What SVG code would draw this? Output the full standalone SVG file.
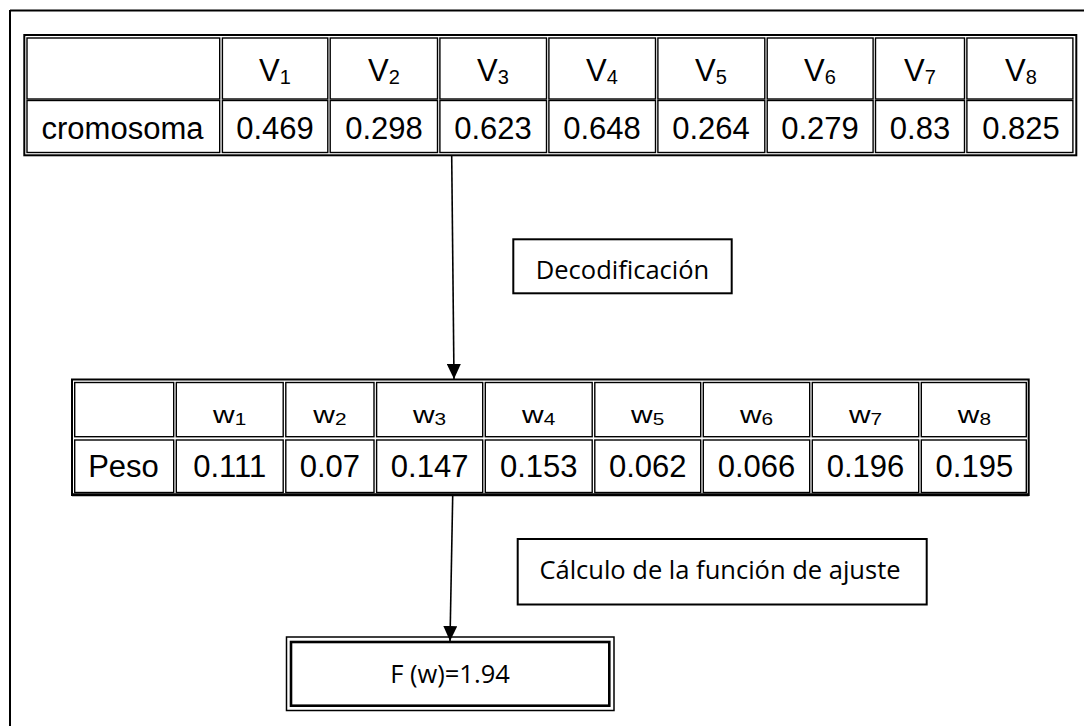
<svg xmlns="http://www.w3.org/2000/svg" width="1084" height="726" viewBox="0 0 1084 726">
<defs>
<style>
.frame{fill:none;stroke:#000;stroke-width:2}
.tout{fill:none;stroke:#000;stroke-width:2}
.cell{fill:none;stroke:#000;stroke-width:1.4}
.box{fill:#fff;stroke:#000;stroke-width:2}
.t{font-family:"Liberation Sans",Arial,sans-serif;fill:#000;text-anchor:middle}
.big{font-size:31px}
.hv{font-size:31px}
.hw{font-size:23px}
.lbl{font-family:"Open Sans","Noto Sans",sans-serif;font-size:25.5px;fill:#000;text-anchor:middle}
.conn{stroke:#000;stroke-width:1.6;fill:none}
</style>
<marker id="ah" markerUnits="userSpaceOnUse" markerWidth="16" markerHeight="14" refX="15" refY="7" orient="auto">
<path d="M0,0 L15,7 L0,14 z" fill="#000"/>
</marker>
</defs>
<rect width="1084" height="726" fill="#fff"/>
<g id="frame">
<line class="frame" x1="10" y1="10.5" x2="1084" y2="10.5"/>
<line class="frame" x1="10" y1="10" x2="10" y2="726"/>
</g>
<g id="tabla-cromosoma">
<rect class="tout" x="24.3" y="35" width="1052" height="120.3"/>
<rect class="cell" x="27" y="38" width="192.7" height="61"/>
<rect class="cell" x="27" y="100.5" width="192.7" height="52"/>
<rect class="cell" x="222.4" y="38" width="105.4" height="61"/>
<rect class="cell" x="222.4" y="100.5" width="105.4" height="52"/>
<rect class="cell" x="330.2" y="38" width="107.3" height="61"/>
<rect class="cell" x="330.2" y="100.5" width="107.3" height="52"/>
<rect class="cell" x="439.9" y="38" width="106.6" height="61"/>
<rect class="cell" x="439.9" y="100.5" width="106.6" height="52"/>
<rect class="cell" x="548.9" y="38" width="106.6" height="61"/>
<rect class="cell" x="548.9" y="100.5" width="106.6" height="52"/>
<rect class="cell" x="657.9" y="38" width="106.9" height="61"/>
<rect class="cell" x="657.9" y="100.5" width="106.9" height="52"/>
<rect class="cell" x="767.2" y="38" width="105.9" height="61"/>
<rect class="cell" x="767.2" y="100.5" width="105.9" height="52"/>
<rect class="cell" x="875.5" y="38" width="89" height="61"/>
<rect class="cell" x="875.5" y="100.5" width="89" height="52"/>
<rect class="cell" x="966.9" y="38" width="106" height="61"/>
<rect class="cell" x="966.9" y="100.5" width="106" height="52"/>
<text class="t hv" x="275" y="81">V<tspan font-size="20" dy="2.5">1</tspan></text>
<text class="t hv" x="384" y="81">V<tspan font-size="20" dy="2.5">2</tspan></text>
<text class="t hv" x="493" y="81">V<tspan font-size="20" dy="2.5">3</tspan></text>
<text class="t hv" x="602" y="81">V<tspan font-size="20" dy="2.5">4</tspan></text>
<text class="t hv" x="711" y="81">V<tspan font-size="20" dy="2.5">5</tspan></text>
<text class="t hv" x="820" y="81">V<tspan font-size="20" dy="2.5">6</tspan></text>
<text class="t hv" x="920" y="81">V<tspan font-size="20" dy="2.5">7</tspan></text>
<text class="t hv" x="1021" y="81">V<tspan font-size="20" dy="2.5">8</tspan></text>
<text class="t big" x="122.5" y="139.3">cromosoma</text>
<text class="t big" x="275" y="139.3">0.469</text>
<text class="t big" x="384" y="139.3">0.298</text>
<text class="t big" x="493" y="139.3">0.623</text>
<text class="t big" x="602" y="139.3">0.648</text>
<text class="t big" x="711" y="139.3">0.264</text>
<text class="t big" x="820" y="139.3">0.279</text>
<text class="t big" x="920" y="139.3">0.83</text>
<text class="t big" x="1021" y="139.3">0.825</text>
</g>
<g id="decodificacion">
<rect class="box" x="513.3" y="239.3" width="218.4" height="54"/>
<text class="lbl" x="622.5" y="279.3">Decodificación</text>
</g>
<g id="tabla-peso">
<rect class="tout" x="72" y="379.5" width="956.7" height="115.5"/>
<line x1="72" y1="494.8" x2="1028.7" y2="494.8" stroke="#000" stroke-width="3"/>
<rect class="cell" x="74.7" y="382.5" width="99" height="54.2"/>
<rect class="cell" x="74.7" y="440" width="99" height="52.5"/>
<rect class="cell" x="176.3" y="382.5" width="106.9" height="54.2"/>
<rect class="cell" x="176.3" y="440" width="106.9" height="52.5"/>
<rect class="cell" x="285.8" y="382.5" width="88.2" height="54.2"/>
<rect class="cell" x="285.8" y="440" width="88.2" height="52.5"/>
<rect class="cell" x="376.6" y="382.5" width="106.1" height="54.2"/>
<rect class="cell" x="376.6" y="440" width="106.1" height="52.5"/>
<rect class="cell" x="485.3" y="382.5" width="106.9" height="54.2"/>
<rect class="cell" x="485.3" y="440" width="106.9" height="52.5"/>
<rect class="cell" x="594.8" y="382.5" width="105.9" height="54.2"/>
<rect class="cell" x="594.8" y="440" width="105.9" height="52.5"/>
<rect class="cell" x="703.3" y="382.5" width="106.4" height="54.2"/>
<rect class="cell" x="703.3" y="440" width="106.4" height="52.5"/>
<rect class="cell" x="812.3" y="382.5" width="106.4" height="54.2"/>
<rect class="cell" x="812.3" y="440" width="106.4" height="52.5"/>
<rect class="cell" x="921.3" y="382.5" width="105" height="54.2"/>
<rect class="cell" x="921.3" y="440" width="105" height="52.5"/>
<text class="t hw" transform="translate(229.7,422.7) scale(1.3,1)">w<tspan font-size="16" dy="2.5">1</tspan></text>
<text class="t hw" transform="translate(329.9,422.7) scale(1.3,1)">w<tspan font-size="16" dy="2.5">2</tspan></text>
<text class="t hw" transform="translate(429.6,422.7) scale(1.3,1)">w<tspan font-size="16" dy="2.5">3</tspan></text>
<text class="t hw" transform="translate(538.7,422.7) scale(1.3,1)">w<tspan font-size="16" dy="2.5">4</tspan></text>
<text class="t hw" transform="translate(647.7,422.7) scale(1.3,1)">w<tspan font-size="16" dy="2.5">5</tspan></text>
<text class="t hw" transform="translate(756.5,422.7) scale(1.3,1)">w<tspan font-size="16" dy="2.5">6</tspan></text>
<text class="t hw" transform="translate(865.5,422.7) scale(1.3,1)">w<tspan font-size="16" dy="2.5">7</tspan></text>
<text class="t hw" transform="translate(974.4,422.7) scale(1.3,1)">w<tspan font-size="16" dy="2.5">8</tspan></text>
<text class="t big" x="123.5" y="477.3">Peso</text>
<text class="t big" x="229.7" y="477.3">0.111</text>
<text class="t big" x="329.9" y="477.3">0.07</text>
<text class="t big" x="429.6" y="477.3">0.147</text>
<text class="t big" x="538.7" y="477.3">0.153</text>
<text class="t big" x="647.7" y="477.3">0.062</text>
<text class="t big" x="756.5" y="477.3">0.066</text>
<text class="t big" x="865.5" y="477.3">0.196</text>
<text class="t big" x="974.4" y="477.3">0.195</text>
</g>
<g id="calculo">
<rect class="box" x="517.7" y="539" width="409" height="65.5"/>
<text class="lbl" x="720" y="578.5">Cálculo de la función de ajuste</text>
</g>
<g id="resultado">
<rect x="286.5" y="637" width="327.5" height="73.5" fill="#fff" stroke="#000" stroke-width="1.5"/>
<rect x="291" y="642" width="318.3" height="63.7" fill="none" stroke="#000" stroke-width="2.6"/>
<text class="lbl" x="450" y="682.7">F (w)=1.94</text>
</g>
<g id="connectors">
<line class="conn" x1="451.7" y1="156" x2="454" y2="379" marker-end="url(#ah)"/>
<line class="conn" x1="452.7" y1="496" x2="450" y2="641" marker-end="url(#ah)"/>
</g>
</svg>
